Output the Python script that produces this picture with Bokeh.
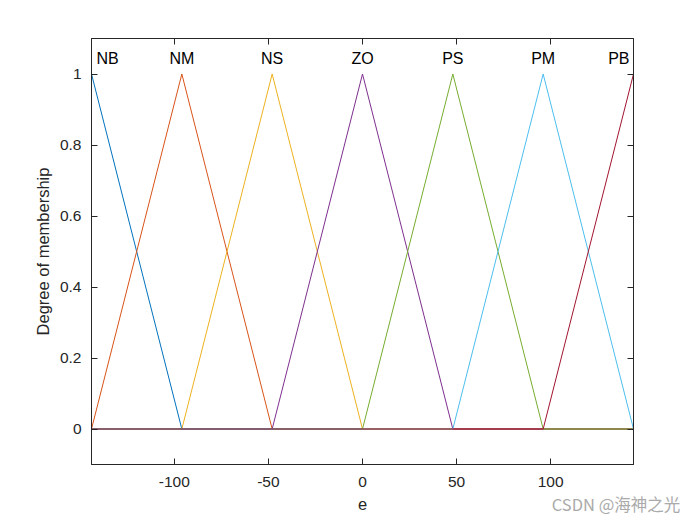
from bokeh.plotting import figure
from bokeh.models import Range1d, LinearAxis, FixedTicker, Label
from bokeh.embed import file_html
from bokeh.resources import INLINE

names = ["NB", "NM", "NS", "ZO", "PS", "PM", "PB"]
peaks = [-144, -96, -48, 0, 48, 96, 144]
half_width = 48
x_min, x_max = -144, 144
colors = ["#0072BD", "#D95319", "#EDB120", "#7E2F8E", "#77AC30", "#4DBEEE", "#A2142F"]
x_ticks = [-100, -50, 0, 50, 100]
x_labels = ["-100", "-50", "0", "50", "100"]
y_ticks = [0, 0.2, 0.4, 0.6, 0.8, 1]
y_labels = ["0", "0.2", "0.4", "0.6", "0.8", "1"]
watermark = "CSDN @海神之光"
watermark_x = 134.7

FONT = "Liberation Sans"
TXT = "#262626"

p = figure(width=692, height=518, output_backend="svg", toolbar_location=None,
           x_range=Range1d(x_min, x_max), y_range=Range1d(-0.1, 1.1),
           min_border_left=91, min_border_right=59, min_border_top=38, min_border_bottom=51)
p.background_fill_color = "white"
p.border_fill_color = "white"
p.outline_line_color = TXT
p.outline_line_width = 1
p.xgrid.visible = False
p.ygrid.visible = False

for name, pk, col in zip(names, peaks, colors):
    xs = [x_min]
    ys = [0]
    a, b, c = pk - half_width, pk, pk + half_width
    for xx, yy in [(a, 0), (b, 1), (c, 0)]:
        if x_min <= xx <= x_max:
            xs.append(xx); ys.append(yy)
    if xs[1] == x_min:
        xs = xs[1:]; ys = ys[1:]
    if xs[-1] != x_max:
        xs.append(x_max); ys.append(0)
    p.line(xs, ys, line_color=col, line_width=1)

for i, (name, pk) in enumerate(zip(names, peaks)):
    if i == 0:
        align, off = "left", 5
    elif i == len(names) - 1:
        align, off = "right", -4
    else:
        align, off = "center", 0
    p.add_layout(Label(x=pk, y=1.045, text=name, text_align=align, text_baseline="middle",
                       x_offset=off, text_font=FONT, text_font_size="16px", text_color="black"))

def style(ax):
    ax.axis_line_color = TXT
    ax.major_tick_line_color = TXT
    ax.major_tick_in = 6
    ax.major_tick_out = 0
    ax.minor_tick_line_color = None
    ax.major_label_text_font = FONT
    ax.major_label_text_font_size = "15.5px"
    ax.major_label_text_color = TXT
    ax.axis_label_text_font = FONT
    ax.axis_label_text_font_size = "16.5px"
    ax.axis_label_text_color = TXT
    ax.axis_label_text_font_style = "normal"

p.xaxis.ticker = FixedTicker(ticks=x_ticks)
p.yaxis.ticker = FixedTicker(ticks=y_ticks)
p.xaxis.major_label_overrides = {t: l for t, l in zip(x_ticks, x_labels)}
p.yaxis.major_label_overrides = {t: l for t, l in zip(y_ticks, y_labels)}
p.xaxis.axis_label = "e"
p.yaxis.axis_label = "Degree of membership"
style(p.xaxis[0]); style(p.yaxis[0])
p.xaxis.major_label_standoff = 12
p.yaxis.major_label_standoff = 10
p.xaxis.axis_label_standoff = 8
p.yaxis.axis_label_standoff = 5

top = LinearAxis(ticker=FixedTicker(ticks=x_ticks))
style(top)
top.major_label_text_font_size = "0px"
top.major_label_overrides = {t: "" for t in x_ticks}
top.major_label_standoff = 0
p.add_layout(top, "above")
right = LinearAxis(ticker=FixedTicker(ticks=y_ticks))
style(right)
right.major_label_overrides = {t: "" for t in y_ticks}
right.major_label_text_font_size = "0px"
right.major_label_standoff = 0
p.add_layout(right, "right")

# watermark as a tick label of an invisible extra axis (not clipped by the frame)
wm = LinearAxis(ticker=FixedTicker(ticks=[watermark_x]))
wm.axis_line_color = None
wm.major_tick_line_color = None
wm.minor_tick_line_color = None
wm.major_tick_in = 0
wm.major_tick_out = 0
wm.major_label_overrides = {watermark_x: watermark}
wm.major_label_text_font = "Noto Sans CJK SC"
wm.major_label_text_font_size = "16.5px"
wm.major_label_text_color = "#aaaaaa"
wm.major_label_standoff = -21
p.add_layout(wm, "below")

open("out.html", "w").write(file_html(p, INLINE))
